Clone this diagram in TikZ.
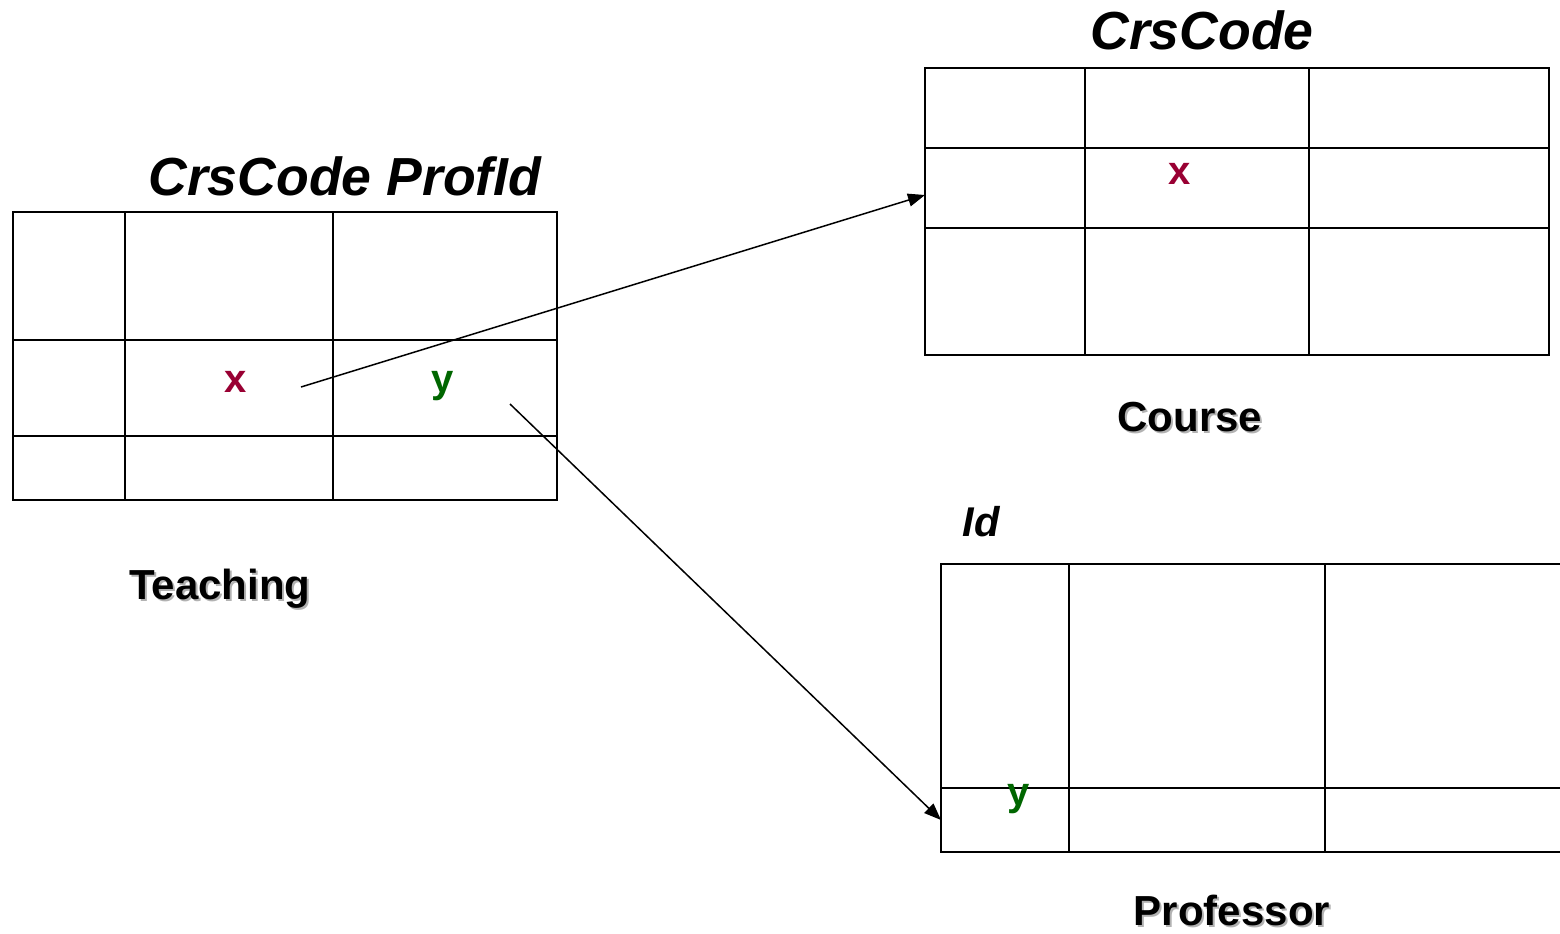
\documentclass[tikz,border=0pt]{standalone}
\usepackage{fontspec}
\setmainfont{Liberation Sans}
\usetikzlibrary{arrows.meta}
\definecolor{xred}{RGB}{153,0,51}
\definecolor{ygreen}{RGB}{0,102,0}
\tikzset{
  tbl/.style={line width=1pt, black},
  conn/.style={line width=0.75pt, -{Triangle[length=8.5pt,width=6.5pt]}},
  title/.style={anchor=base, inner sep=0pt, font=\fontsize{26.8}{30}\selectfont\bfseries\itshape},
  idlbl/.style={anchor=base, inner sep=0pt, font=\fontsize{20.8}{24}\selectfont\bfseries\itshape},
  lbl/.style={anchor=base, inner sep=0pt, font=\fontsize{21}{24}\selectfont\bfseries},
  shadow/.style={lbl, text=black!30},
  val/.style={anchor=base, inner sep=0pt, font=\fontsize{20}{24}\selectfont\bfseries}
}
\begin{document}
\begin{tikzpicture}[x=0.5pt,y=-0.5pt]
\useasboundingbox (0,0) rectangle (1560,933);
% Teaching table
\draw[tbl] (13,212) rectangle (557,500);
\draw[tbl] (125,212) -- (125,500) (333,212) -- (333,500)
  (13,340) -- (557,340) (13,436) -- (557,436);
% Course table
\draw[tbl] (925,68) rectangle (1549,355);
\draw[tbl] (1085,68) -- (1085,355) (1309,68) -- (1309,355)
  (925,148) -- (1549,148) (925,228) -- (1549,228);
% Professor table (open on the right)
\draw[tbl] (1560,564) -- (941,564) -- (941,852) -- (1560,852);
\draw[tbl] (1069,564) -- (1069,852) (1325,564) -- (1325,852)
  (941,788) -- (1560,788);
% titles
\node[title] (tcols) at (345,195) {CrsCode ProfId};
\node[title] (ccols) at (1202,49) {CrsCode};
\node[idlbl] (pcols) at (981,536) {Id};
% values
\node[val, text=xred] (tx) at (236,392) {x};
\node[val, text=ygreen] (ty) at (443,392) {y};
\node[val, text=xred] (cx) at (1180,184) {x};
\node[val, text=ygreen] (py) at (1019,805) {y};
% table names with shadow
\node[shadow] at (222,601) {Teaching};
\node[lbl] (tname) at (220,599) {Teaching};
\node[shadow] at (1192,433) {Course};
\node[lbl] (cname) at (1190,431) {Course};
\node[shadow] at (1234,927) {Professor};
\node[lbl] (pname) at (1232,925) {Professor};
% connectors
\coordinate (a1s) at (301,387);
\coordinate (a1e) at (925,195);
\coordinate (a2s) at (510,404);
\coordinate (a2e) at (941,820);
\draw[conn] (a1s) -- (a1e);
\draw[conn] (a2s) -- (a2e);
\end{tikzpicture}
\end{document}
